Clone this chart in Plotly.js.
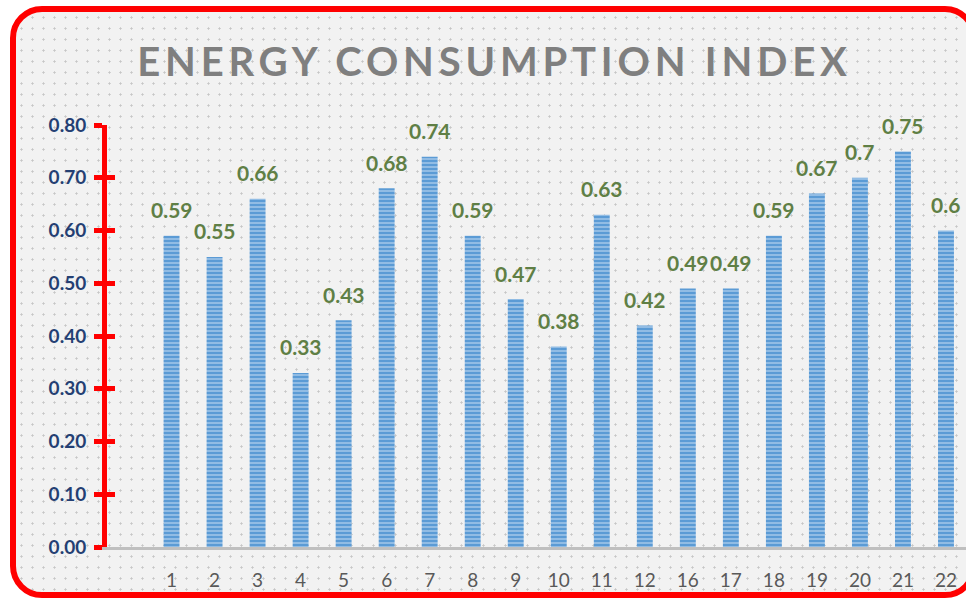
<!DOCTYPE html>
<html><head><meta charset="utf-8">
<script src="https://cdn.plot.ly/plotly-3.0.1.min.js"></script>
<style>
html,body{margin:0;padding:0;width:966px;height:598px;overflow:hidden;background:#fff;}
#frame{position:absolute;left:10px;top:6px;width:967px;height:592px;box-sizing:border-box;
 border:6px solid #ff0000;border-radius:32px;background-color:#f2f2f2;
 background-image:radial-gradient(circle,#c6c6c6 0.9px,transparent 1.3px);background-size:11px 11px;}
#chart{position:absolute;left:0;top:0;width:989px;height:598px;}
.gtitle{letter-spacing:4.8px;}
</style></head>
<body>
<div id="frame"></div>
<div id="chart"></div>
<script>
const categories = ['1','2','3','4','5','6','7','8','9','10','11','12','16','17','18','19','20','21','22'];
const values = [0.59,0.55,0.66,0.33,0.43,0.68,0.74,0.59,0.47,0.38,0.63,0.42,0.49,0.49,0.59,0.67,0.7,0.75,0.6];
const labels = ['0.59','0.55','0.66','0.33','0.43','0.68','0.74','0.59','0.47','0.38','0.63','0.42','0.49','0.49','0.59','0.67','0.7','0.75','0.6'];
const yTicks = [0,0.1,0.2,0.3,0.4,0.5,0.6,0.7,0.8];

const trace = {
  type:'bar', x:categories, y:values,
  marker:{color:'#5b9bd5', pattern:{shape:'-', fgcolor:'#a9cbeb', bgcolor:'#5b9bd5', size:4, solidity:0.35}, line:{width:0}},
  hoverinfo:'skip'
};
// carrier for the second (inner-tick) axis, draws nothing
const tickCarrier = {type:'scatter', mode:'none', x:categories, y:values, yaxis:'y2', hoverinfo:'skip', showlegend:false};

const annotations = categories.map((c,i)=>({
  x:i, y:values[i], xref:'x', yref:'y', text:labels[i], showarrow:false,
  yanchor:'middle', yshift:26,
  font:{family:'Lato, "Open Sans", sans-serif', size:21, color:'#5f7f45', weight:'bold'}
}));

const layout = {
  width:989, height:598,
  margin:{l:107, r:0, t:125, b:51},
  paper_bgcolor:'rgba(0,0,0,0)', plot_bgcolor:'rgba(0,0,0,0)',
  bargap:0.63, showlegend:false,
  title:{text:'ENERGY CONSUMPTION INDEX', x:0.5, xanchor:'center', y:0.896, yanchor:'middle',
    font:{family:'Lato, "Open Sans", sans-serif', size:40, color:'#7f7f7f', weight:'bold'}},
  xaxis:{type:'category', range:[-1.5,19], showgrid:false, zeroline:false,
    showline:true, linecolor:'#bfbfbf', linewidth:3, ticks:'',
    tickfont:{family:'Lato, "Open Sans", sans-serif', size:19, color:'#595959'}, ticklabelstandoff:14},
  yaxis:{range:[0,0.8], tickvals:yTicks, tickformat:'.2f', showgrid:false, zeroline:false,
    showline:true, linecolor:'#ff0000', linewidth:5, ticks:'outside', ticklen:8, tickwidth:5, tickcolor:'#ff0000',
    ticklabelstandoff:4,
    tickfont:{family:'Lato, "Open Sans", sans-serif', size:19, color:'#243f73', weight:'bold'}},
  yaxis2:{overlaying:'y', side:'left', range:[0,0.8], tickvals:yTicks, showticklabels:false, showgrid:false, zeroline:false,
    showline:false, ticks:'inside', ticklen:8, tickwidth:5, tickcolor:'#ff0000'},
  annotations:annotations
};
Plotly.newPlot('chart',[trace, tickCarrier],layout,{displayModeBar:false, staticPlot:true});
</script>
</body></html>
